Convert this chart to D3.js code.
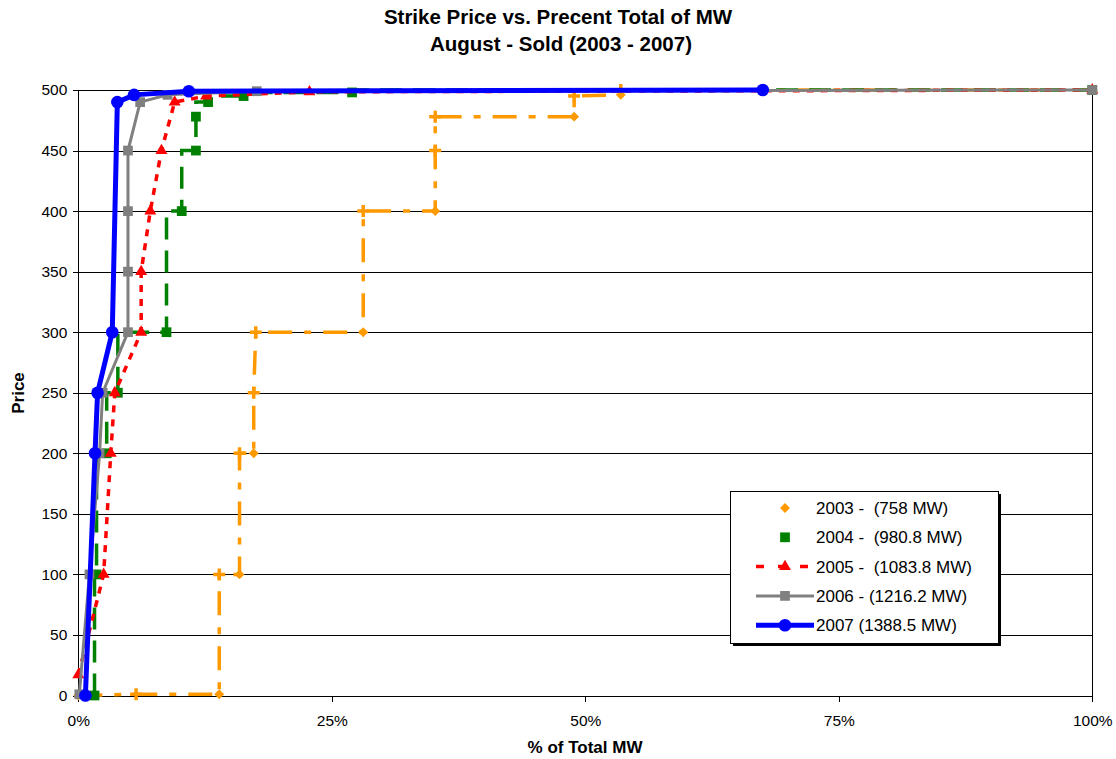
<!DOCTYPE html>
<html>
<head>
<meta charset="utf-8">
<script src="https://cdn.jsdelivr.net/npm/d3@7"></script>
<style>
  body { margin: 0; background: #fff; }
  svg { font-family: "Liberation Sans", Arial, sans-serif; }
</style>
</head>
<body>
<svg width="1116" height="759"></svg>
<script>
// percent of total MW, price
var pct2003Diamond = [[0, 0], [13.9, 1], [15.9, 100], [17.3, 200], [28.1, 300], [35.2, 400], [48.9, 478], [53.5, 496], [100, 500]],
    pct2003Plus    = [[5.7, 1], [13.9, 100], [15.9, 200], [17.3, 250], [17.5, 300], [28.1, 400], [35.2, 450], [35.2, 478], [48.9, 495], [53.5, 500]],
    pct2004 = [[1.6, 0], [1.8, 100], [2.8, 200], [3.9, 250], [8.7, 300], [10.2, 400], [11.6, 450], [11.6, 478], [12.8, 490], [16.3, 495], [27.0, 498], [100, 500]],
    pct2005 = [[0, 17], [2.5, 100], [3.2, 200], [3.6, 250], [6.2, 300], [6.2, 350], [7.1, 400], [8.2, 450], [9.5, 490], [12.6, 495], [22.8, 498.5], [100, 500]],
    pct2006 = [[0.1, 1], [1.1, 100], [2.1, 200], [2.4, 250], [4.9, 300], [4.9, 350], [4.9, 400], [4.9, 450], [6.1, 490], [8.8, 496], [17.6, 499], [100, 500]],
    pct2007 = [[0.7, 0], [1.65, 200], [1.9, 250], [3.35, 300], [3.85, 490], [5.5, 496], [10.9, 499], [67.5, 500]];

var xTicks = [0, 25, 50, 75, 100],
    yTicks = [0, 50, 100, 150, 200, 250, 300, 350, 400, 450, 500];

var legendLabels = ['2003 -  (758 MW)', '2004 -  (980.8 MW)', '2005 -  (1083.8 MW)', '2006 - (1216.2 MW)', '2007 (1388.5 MW)'];

var plotLeft = 78.3, plotRight = 1092.3, plotTop = 90, plotBottom = 695.5;

var svg = d3.select('svg');

var x = d3.scaleLinear().domain([0, 100]).range([plotLeft, plotRight]),
    y = d3.scaleLinear().domain([0, 500]).range([plotBottom, plotTop]);

// gridlines
svg.append('g')
  .attr('transform', 'translate(' + plotLeft + ',0)')
  .call(d3.axisLeft(y).tickValues(yTicks).tickSize(-(plotRight - plotLeft)).tickFormat(''))
  .call(function(g) {
    g.select('.domain').remove();
    g.selectAll('line').attr('stroke', '#000').attr('shape-rendering', 'crispEdges');
  });

// right border
svg.append('line')
  .attr('x1', plotRight).attr('x2', plotRight).attr('y1', plotTop).attr('y2', plotBottom)
  .attr('stroke', '#000').attr('shape-rendering', 'crispEdges');

var yAxis = svg.append('g')
  .attr('transform', 'translate(' + plotLeft + ',0)')
  .call(d3.axisLeft(y).tickValues(yTicks).tickSize(5).tickPadding(6).tickSizeOuter(0));

var xAxis = svg.append('g')
  .attr('transform', 'translate(0,' + plotBottom + ')')
  .call(d3.axisBottom(x).tickValues(xTicks).tickSize(6).tickPadding(13).tickSizeOuter(0)
    .tickFormat(function(d) { return d + '%'; }));

[yAxis, xAxis].forEach(function(g) {
  g.selectAll('text').attr('font-size', 15.5).attr('font-family', '"Liberation Sans", Arial, sans-serif').attr('fill', '#000');
  g.selectAll('line, .domain').attr('stroke', '#000').attr('shape-rendering', 'crispEdges');
});

var lineLinear = d3.line().x(function(d) { return x(d[0]); }).y(function(d) { return y(d[1]); });
var lineStep   = d3.line().x(function(d) { return x(d[0]); }).y(function(d) { return y(d[1]); }).curve(d3.curveStepBefore);

var sym = {
  diamond:  d3.symbol().type(d3.symbolDiamond2).size(62),
  square:   d3.symbol().type(d3.symbolSquare).size(95),
  triangle: d3.symbol().type(d3.symbolTriangle).size(62),
  circle:   d3.symbol().type(d3.symbolCircle).size(125)
};

function markers(data, path, color) {
  svg.append('g').selectAll('path').data(data).enter().append('path')
    .attr('d', path)
    .attr('fill', color)
    .attr('transform', function(d) { return 'translate(' + x(d[0]) + ',' + y(d[1]) + ')'; });
}

// 2003 - orange dash-dot step line
var all2003 = pct2003Diamond.concat(pct2003Plus).sort(function(a, b) { return a[0] - b[0] || a[1] - b[1]; });
svg.append('path').datum(all2003)
  .attr('d', lineLinear).attr('fill', 'none')
  .attr('stroke', '#FF9900').attr('stroke-width', 3.5)
  .attr('stroke-dasharray', '24,12,7,12');
svg.append('g').selectAll('path').data(pct2003Plus).enter().append('path')
  .attr('d', 'M-6,0H6M0,-6V6')
  .attr('stroke', '#FF9900').attr('stroke-width', 3.5)
  .attr('transform', function(d) { return 'translate(' + x(d[0]) + ',' + y(d[1]) + ')'; });
markers(pct2003Diamond, sym.diamond(), '#FF9900');

// 2004 - green dashed step line
svg.append('path').datum(pct2004)
  .attr('d', lineStep).attr('fill', 'none')
  .attr('stroke', '#008000').attr('stroke-width', 3.5)
  .attr('stroke-dasharray', '22,11');
markers(pct2004, sym.square(), '#008000');

// 2005 - red dotted line
svg.append('path').datum(pct2005)
  .attr('d', lineLinear).attr('fill', 'none')
  .attr('stroke', '#FF0000').attr('stroke-width', 3.5)
  .attr('stroke-dasharray', '7,7');
markers(pct2005, sym.triangle(), '#FF0000');

// 2006 - gray
svg.append('path').datum(pct2006)
  .attr('d', lineLinear).attr('fill', 'none')
  .attr('stroke', '#808080').attr('stroke-width', 3);
markers(pct2006, sym.square(), '#808080');

// 2007 - blue
svg.append('path').datum(pct2007)
  .attr('d', lineLinear).attr('fill', 'none')
  .attr('stroke', '#0000FF').attr('stroke-width', 5);
markers(pct2007, sym.circle(), '#0000FF');

// titles
var title = svg.append('text').attr('text-anchor', 'middle')
  .attr('font-weight', 'bold').attr('font-size', 20.5);
title.append('tspan').attr('x', 558).attr('y', 24).text('Strike Price vs. Precent Total of MW');
title.append('tspan').attr('x', 561).attr('y', 51).text('August - Sold (2003 - 2007)');

svg.append('text').attr('x', 585).attr('y', 753).attr('text-anchor', 'middle')
  .attr('font-weight', 'bold').attr('font-size', 17).text('% of Total MW');

svg.append('text').attr('transform', 'translate(24,393) rotate(-90)').attr('text-anchor', 'middle')
  .attr('font-weight', 'bold').attr('font-size', 17).text('Price');

// legend
var lg = svg.append('g').attr('transform', 'translate(730,491)');
lg.append('rect').attr('x', 3).attr('y', 3).attr('width', 268).attr('height', 152).attr('fill', '#000');
lg.append('rect').attr('x', 0.5).attr('y', 0.5).attr('width', 268).attr('height', 152)
  .attr('fill', '#fff').attr('stroke', '#000');

var lgStyles = [
  { color: '#FF9900', line: false, sym: sym.diamond(), width: 0 },
  { color: '#008000', line: false, sym: sym.square(), width: 0 },
  { color: '#FF0000', line: true, dash: '8,14', sym: sym.triangle(), width: 3.5 },
  { color: '#808080', line: true, sym: sym.square(), width: 3 },
  { color: '#0000FF', line: true, sym: sym.circle(), width: 5 }
];

var item = lg.selectAll('g.item').data(legendLabels).enter().append('g')
  .attr('class', 'item')
  .attr('transform', function(d, i) { return 'translate(0,' + (17 + i * 29.3) + ')'; });

item.each(function(d, i) {
  var g = d3.select(this), s = lgStyles[i];
  if (s.line) {
    g.append('line').attr('x1', 26).attr('x2', 84).attr('stroke', s.color)
      .attr('stroke-width', s.width).attr('stroke-dasharray', s.dash || null);
  }
  g.append('path').attr('d', s.sym).attr('fill', s.color).attr('transform', 'translate(55,0)');
  g.append('text').attr('x', 86).attr('dy', '0.36em').attr('font-size', 17)
    .style('white-space', 'pre').text(d);
});
</script>
</body>
</html>
